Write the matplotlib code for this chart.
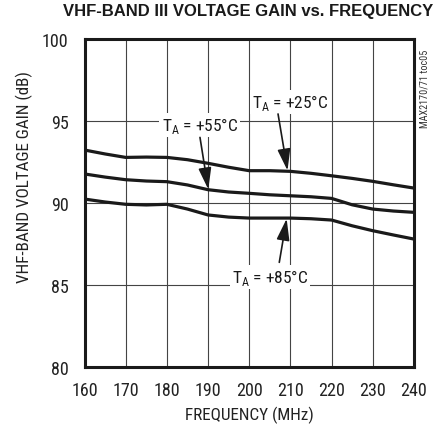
import matplotlib
matplotlib.use("Agg")
import matplotlib.pyplot as plt
from matplotlib import font_manager as fm

freq = [160, 165, 170, 175, 180, 185, 190, 195, 200, 205, 210, 215, 220, 225, 230, 235, 240]
gain_25 = [93.25, 93.01, 92.80, 92.82, 92.80, 92.66, 92.44, 92.20, 91.99, 91.99, 91.95, 91.83, 91.68, 91.52, 91.34, 91.13, 90.93]
gain_55 = [91.79, 91.60, 91.44, 91.36, 91.32, 91.12, 90.83, 90.69, 90.61, 90.52, 90.46, 90.40, 90.30, 89.91, 89.65, 89.53, 89.45]
gain_85 = [90.26, 90.08, 89.94, 89.90, 89.94, 89.65, 89.29, 89.16, 89.10, 89.10, 89.10, 89.06, 88.98, 88.63, 88.33, 88.07, 87.82]
xticks = [160, 170, 180, 190, 200, 210, 220, 230, 240]
yticks = [80, 85, 90, 95, 100]

available = set(f.name for f in fm.fontManager.ttflist)
narrow_pref = ['Nimbus Sans Narrow', 'Liberation Sans Narrow', 'Roboto Condensed',
               'Archivo Narrow', 'PT Sans Narrow', 'Fira Sans Condensed']
NARROW = [f for f in narrow_pref if f in available][:1] + ['DejaVu Sans']
plt.rcParams['font.family'] = NARROW

fig = plt.figure(figsize=(4.38, 4.27), dpi=100)
ax = fig.add_axes([0.193, 0.1375, 0.752, 0.768])

for g in (gain_25, gain_55, gain_85):
    ax.plot(freq, g, color='#1a1a1a', lw=2.3, solid_capstyle='butt', zorder=3)

ax.set_xlim(160, 240)
ax.set_ylim(80, 100)
ax.set_xticks(xticks)
ax.set_yticks(yticks)
ax.grid(True, color='#444444', lw=0.8, zorder=1)
ax.set_axisbelow(True)
ax.tick_params(length=0, labelsize=13, colors='#222222')
ax.tick_params(axis='y', pad=11.5)
ax.tick_params(axis='x', pad=10)
for s in ax.spines.values():
    s.set_linewidth(2.2)
    s.set_color('#1a1a1a')
    s.set_zorder(4)

ax.set_xlabel('FREQUENCY (MHz)', fontsize=12.3, color='#222222')
ax.xaxis.set_label_coords(0.5, -0.118)
ax.set_ylabel('VHF-BAND VOLTAGE GAIN (dB)', fontsize=12.3, color='#222222')
ax.yaxis.set_label_coords(-0.156, 0.582)

fig.text(0.566, 0.99, 'VHF-BAND III VOLTAGE GAIN vs. FREQUENCY', ha='center', va='top',
         fontsize=12, fontweight='bold', family=['Liberation Sans', 'DejaVu Sans'], color='#1a1a1a')
fig.text(0.970, 0.883, 'MAX2170/71 toc05', rotation=90, ha='center', va='top',
         fontsize=7.3, color='#333333')

aprops = dict(arrowstyle='-|>,head_length=1.1,head_width=0.33', color='#1a1a1a', lw=1.2,
              mutation_scale=12, shrinkA=0, shrinkB=0)
bbox = dict(facecolor='white', edgecolor='none', pad=1.5)

ax.text(200.6, 95.89, r'T$_\mathregular{A}$ = +25°C', fontsize=12.5, ha='left', va='baseline',
        bbox=bbox, zorder=5, color='#1a1a1a')
ax.annotate('', xy=(209.3, 92.0), xytext=(207.0, 95.45), arrowprops=aprops, zorder=5)

ax.text(178.7, 94.47, r'T$_\mathregular{A}$ = +55°C', fontsize=12.5, ha='left', va='baseline',
        bbox=bbox, zorder=5, color='#1a1a1a')
ax.annotate('', xy=(190.06, 90.85), xytext=(188.04, 94.02), arrowprops=aprops, zorder=5)

ax.text(195.74, 85.22, r'T$_\mathregular{A}$ = +85°C', fontsize=12.5, ha='left', va='baseline',
        bbox=bbox, zorder=5, color='#1a1a1a')
ax.annotate('', xy=(209.09, 89.06), xytext=(207.3, 86.40), arrowprops=aprops, zorder=5)

fig.savefig('out.png', dpi=100)
